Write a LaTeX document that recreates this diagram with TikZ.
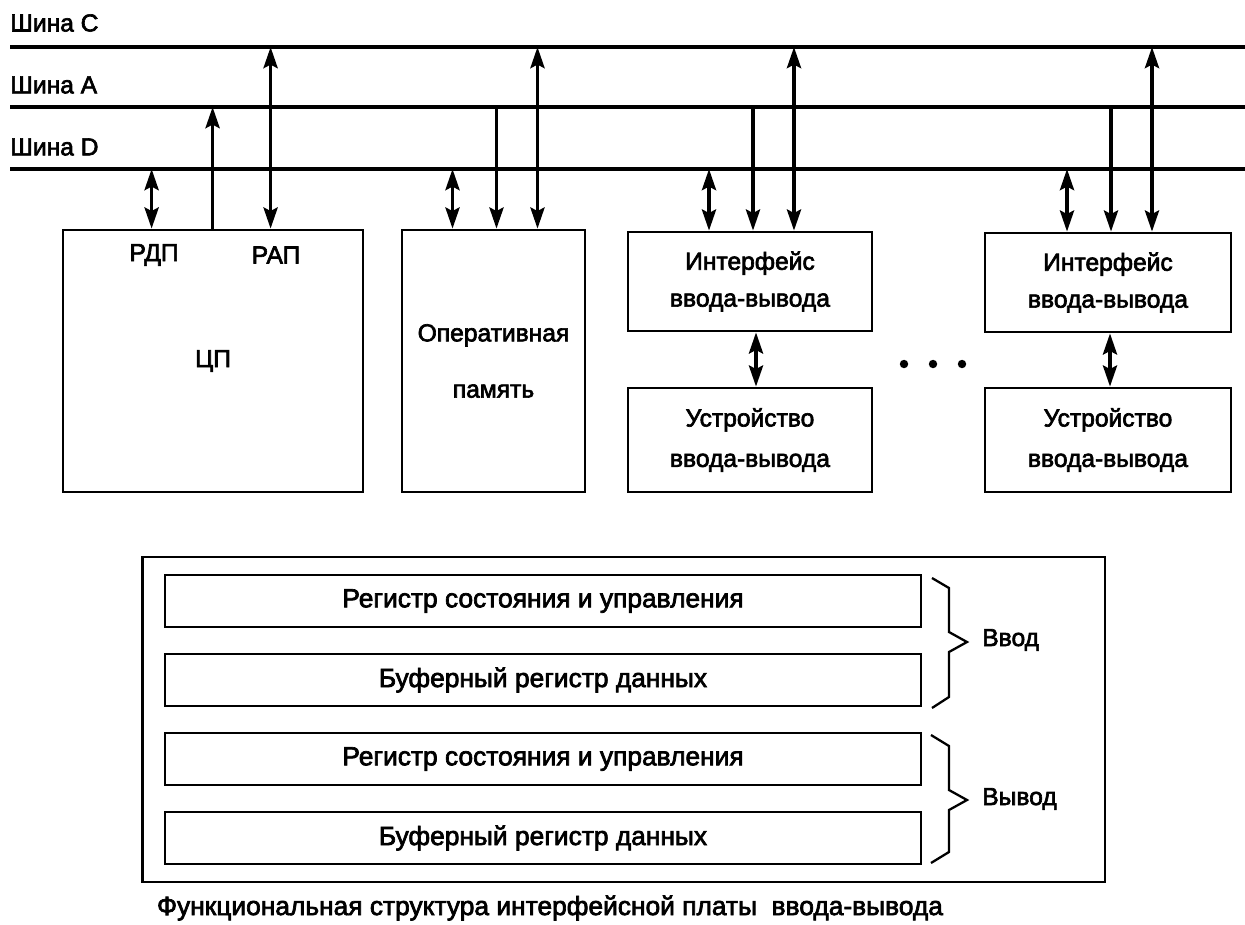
\documentclass[tikz,border=0pt]{standalone}
\usepackage{fontspec}
\setmainfont{Liberation Sans}
\newfontfamily\heavysans{Liberation Sans}[FakeBold=2.6]
\usetikzlibrary{arrows.meta}

\begin{document}
\begin{tikzpicture}[x=0.02cm,y=-0.02cm,
    every node/.style={font=\heavysans\fontsize{14}{17}\selectfont},
    bus/.style={line width=2.3pt},
    box/.style={draw,line width=1.6pt,align=center},
    txt/.style={inner sep=0pt},
    big/.style={font=\heavysans\fontsize{15}{18}\selectfont},
    link/.style={line width=2.1pt,-{Stealth[length=12pt,width=8pt,inset=2pt]}},
    both/.style={line width=2.1pt,{Stealth[length=12pt,width=8pt,inset=2pt]}-{Stealth[length=12pt,width=8pt,inset=2pt]}},
    brace/.style={line width=1.3pt,line join=miter}]
\useasboundingbox (0,0) rectangle (1245,924);

% system buses
\draw[bus] (10,47) coordinate (busC) -- (1245,47);
\draw[bus] (10,107) coordinate (busA) -- (1245,107);
\draw[bus] (10,169) coordinate (busD) -- (1245,169);
\node[txt,anchor=west] (nameC) at (10,23) {Шина C};
\node[txt,anchor=west] (nameA) at (10,85) {Шина A};
\node[txt,anchor=west] (nameD) at (10,147) {Шина D};

% processor, memory, I/O
\node[box,minimum width=6cm,minimum height=5.24cm] (cpu) at (213,361) {ЦП};
\node[box,minimum width=3.66cm,minimum height=5.24cm] (ram) at (493.5,361) {Оперативная\\[15pt]память};
\node[box,minimum width=4.88cm,minimum height=1.98cm] (ioif1) at (750,281.5) {Интерфейс\\[4pt]ввода-вывода};
\node[box,minimum width=4.88cm,minimum height=2.08cm] (iodev1) at (750,440) {Устройство\\[6pt]ввода-вывода};
\node[box,minimum width=4.92cm,minimum height=1.98cm] (ioif2) at (1108,282.5) {Интерфейс\\[4pt]ввода-вывода};
\node[box,minimum width=4.92cm,minimum height=2.08cm] (iodev2) at (1108,440) {Устройство\\[6pt]ввода-вывода};

\path ([xshift=1.8cm]cpu.north west) coordinate (cpu-d)
      ([xshift=3.02cm]cpu.north west) coordinate (cpu-a)
      ([xshift=4.18cm]cpu.north west) coordinate (cpu-c);
\node[txt] (rdp) at (154,255) {РДП};
\node[txt] (rap) at (276,255) {РАП};

\draw[both] (cpu-d |- busD) -- (cpu-d);
\draw[link] (cpu-a) -- (cpu-a |- busA);
\draw[both] (cpu-c |- busC) -- (cpu-c);

\foreach \u in {ram,ioif1,ioif2}{
  \path ([xshift=-0.82cm]\u.north) coordinate (\u-d)
        ([xshift=0.06cm]\u.north) coordinate (\u-a)
        ([xshift=0.88cm]\u.north) coordinate (\u-c);
  \draw[both] (\u-d |- busD) -- (\u-d);
  \draw[link] (\u-a |- busA) -- (\u-a);
  \draw[both] (\u-c |- busC) -- (\u-c);
}

\draw[both] ([xshift=0.12cm]ioif1.south) -- ([xshift=0.12cm]iodev1.north);
\draw[both] ([xshift=0.04cm]ioif2.south) -- ([xshift=0.04cm]iodev2.north);

\foreach \x in {904,933,962}
  \fill (\x,364) circle (2.4pt);

% interface board
\node[box,minimum width=19.26cm,minimum height=6.5cm] (board) at (623.5,719.5) {};
\foreach \n/\y/\t in {inreg/601/Регистр состояния и управления,
                      inbuf/680/Буферный регистр данных,
                      outreg/759/Регистр состояния и управления,
                      outbuf/838/Буферный регистр данных}
  \node[box,big,minimum width=15.12cm,minimum height=1.04cm] (\n) at (543,\y) {\t};

\draw[brace] (932,578) -- (949,588) -- (949,632) -- (967,642) -- (949,652) -- (949,697) -- (932,708);
\node[txt,anchor=west] (inlbl) at (982,640) {Ввод};
\draw[brace] (931,735) -- (949,746) -- (949,790) -- (967,800) -- (949,810) -- (949,852) -- (931,863);
\node[txt,anchor=west] (outlbl) at (982,799) {Вывод};

\node[txt,big] (caption) at (550,908) {Функциональная структура интерфейсной платы\ \ ввода-вывода};
\end{tikzpicture}
\end{document}
